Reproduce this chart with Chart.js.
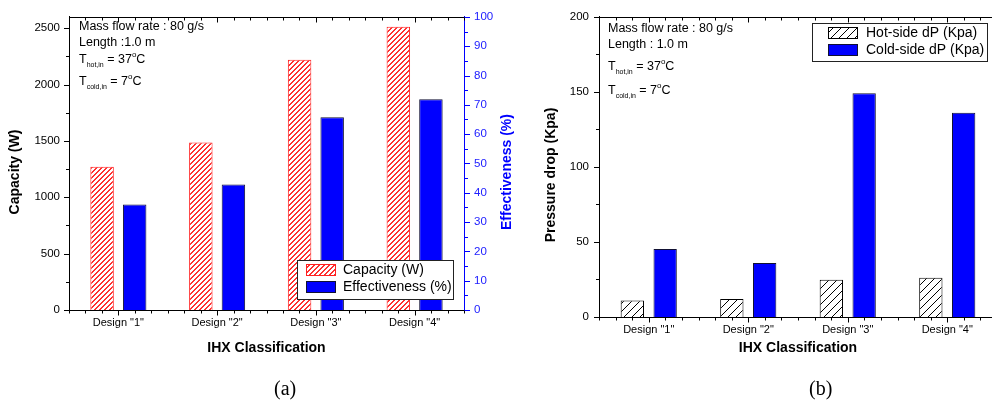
<!DOCTYPE html>
<html><head><meta charset="utf-8">
<script src="https://cdn.jsdelivr.net/npm/chart.js@4.4.1/dist/chart.umd.min.js"></script>
<style>
html,body{margin:0;padding:0;background:#fff;}
body{width:992px;height:401px;overflow:hidden;position:relative;}
#wa{position:absolute;left:0;top:0;width:525px;height:401px;}
#wb{position:absolute;left:525px;top:0;width:485px;height:401px;}
.cap{position:absolute;font-family:"Liberation Serif","Times New Roman",serif;font-size:20px;color:#000;top:376px;line-height:24px;}
</style></head><body>
<div id="wa"><canvas id="ca" width="525" height="401"></canvas></div>
<div id="wb"><canvas id="cb" width="485" height="401"></canvas></div>
<div class="cap" style="left:274px">(a)</div>
<div class="cap" style="left:809px">(b)</div>
<script>
// ---------------- data ----------------
const categories = ['Design "1"', 'Design "2"', 'Design "3"', 'Design "4"'];
const capacityW = [1270, 1485, 2220, 2512];
const effectivenessPct = [36.0, 42.8, 65.8, 71.9];
const hotSideDP = [11.0, 12.0, 24.8, 26.1];
const coldSideDP = [45.3, 36.0, 149.2, 136.2];
const capacityTicks = [0, 500, 1000, 1500, 2000, 2500];
const effectivenessTicks = [0, 10, 20, 30, 40, 50, 60, 70, 80, 90, 100];
const pressureTicks = [0, 50, 100, 150, 200];

// ---------------- helpers ----------------
const F = '"Liberation Sans", Arial, Helvetica, sans-serif';
// pixel-exact diagonal "/" hatch tile: period s, line thickness t (pixels)
function hatch(ctx, color, s, t) {
  const c = document.createElement('canvas');
  c.width = s; c.height = s;
  const g = c.getContext('2d');
  g.fillStyle = '#ffffff'; g.fillRect(0, 0, s, s);
  g.fillStyle = color;
  for (let y = 0; y < s; y++) for (let x = 0; x < s; x++) {
    if ((x + y) % s >= s - t) g.fillRect(x, y, 1, 1);
  }
  return ctx.createPattern(c, 'repeat');
}
function drawRich(ctx, x, y, parts) {
  let cx = x;
  for (const p of parts) {
    ctx.font = (p.bold ? 'bold ' : '') + p.size + 'px ' + F;
    ctx.fillText(p.t, cx, y + (p.dy || 0));
    cx += ctx.measureText(p.t).width;
  }
}
function setTicks(arr) { return s => { s.ticks = arr.map(v => ({value: v})); }; }
const plainLabel = v => String(v);

const decor = {
  id: 'decor',
  afterDraw(chart, args, o) {
    const ctx = chart.ctx, ca = chart.chartArea;
    ctx.save();
    ctx.lineWidth = 1;
    ctx.strokeStyle = '#000';
    ctx.beginPath();
    ctx.moveTo(ca.left, Math.round(ca.top) + 0.5); ctx.lineTo(ca.right, Math.round(ca.top) + 0.5);
    if (o.frameRight) { ctx.moveTo(Math.round(ca.right) + 0.5, ca.top); ctx.lineTo(Math.round(ca.right) + 0.5, ca.bottom); }
    ctx.stroke();
    // x ticks (bottom outward, top inward)
    const xs = chart.scales.x;
    const n = categories.length;
    ctx.beginPath();
    for (let k = 0; k <= n * 6; k++) {
      const px = Math.round(xs.getPixelForValue(-0.5 + k / 6)) + 0.5;
      const len = (k % 6 === 3) ? 5 : 3;
      const yb = Math.round(ca.bottom) + 0.5, yt = Math.round(ca.top) + 0.5;
      ctx.moveTo(px, yb); ctx.lineTo(px, yb + len);
      ctx.moveTo(px, yt); ctx.lineTo(px, yt + len);
    }
    ctx.stroke();
    // y ticks
    for (const ax of o.yAxes) {
      const s = chart.scales[ax.id];
      ctx.strokeStyle = ax.color;
      ctx.beginPath();
      for (let v = s.min; v <= s.max + 1e-9; v += ax.minor) {
        const py = Math.round(s.getPixelForValue(v)) + 0.5;
        const major = Math.abs(v / ax.major - Math.round(v / ax.major)) < 1e-6;
        const len = major ? 5 : 3;
        if (ax.side === 'left') { const x0 = Math.round(ca.left); ctx.moveTo(x0, py); ctx.lineTo(x0 - len, py); }
        if (ax.side === 'right') { const x0 = Math.round(ca.right) + 1; ctx.moveTo(x0, py); ctx.lineTo(x0 + len, py); }
        if (ax.mirror) { const x0 = Math.round(ca.right); ctx.moveTo(x0, py); ctx.lineTo(x0 - len, py); }
      }
      ctx.stroke();
    }
    // titles
    ctx.textBaseline = 'middle';
    ctx.textAlign = 'center';
    for (const t of o.titles) {
      ctx.save();
      ctx.fillStyle = t.color || '#000';
      ctx.font = 'bold 14px ' + F;
      const tx = t.x === 'center' ? (ca.left + ca.right) / 2 : t.x;
      ctx.translate(tx, t.y);
      if (t.rot) ctx.rotate(t.rot);
      ctx.fillText(t.text, 0, 0);
      ctx.restore();
    }
    // annotation
    ctx.textAlign = 'left';
    ctx.fillStyle = '#000';
    for (const ln of o.notes) drawRich(ctx, o.noteX, ln.y, ln.parts);
    // legend
    const L = o.legend;
    ctx.fillStyle = '#fff';
    ctx.fillRect(L.x, L.y, L.w, L.h);
    ctx.strokeStyle = '#222';
    ctx.strokeRect(L.x + 0.5, L.y + 0.5, L.w, L.h);
    chart.data.datasets.forEach((ds, i) => {
      const it = L.items[i];
      ctx.fillStyle = ds.backgroundColor;
      ctx.fillRect(L.sx, it.y, L.sw, L.sh);
      ctx.strokeStyle = ds.borderColor;
      ctx.strokeRect(L.sx + 0.5, it.y + 0.5, L.sw - 1, L.sh - 1);
      ctx.fillStyle = '#000';
      ctx.font = '14px ' + F;
      ctx.textBaseline = 'middle';
      ctx.fillText(ds.label, L.tx, it.y + L.sh / 2);
    });
    ctx.restore();
  }
};

const noteParts = (hotLabel, hotVal) => [
  {t: 'T', size: 12.5}, {t: hotLabel, size: 7, dy: 5}, {t: ' = ' + hotVal, size: 12.5}, {t: 'o', size: 8, dy: -5}, {t: 'C', size: 12.5}
];

// ---------------- chart (a) ----------------
const ctxA = document.getElementById('ca').getContext('2d');
const redHatch = hatch(ctxA, '#ff3030', 5, 2);
new Chart(ctxA, {
  type: 'bar',
  data: {
    labels: categories,
    datasets: [
      {label: 'Capacity (W)', data: capacityW, yAxisID: 'y', backgroundColor: redHatch, borderColor: '#ff2020', borderWidth: 1},
      {label: 'Effectiveness (%)', data: effectivenessPct, yAxisID: 'y1', backgroundColor: '#0000ff', borderColor: '#111133', borderWidth: 1}
    ]
  },
  options: {
    responsive: false, animation: false,
    layout: {padding: {top: 14, left: 0, right: 0, bottom: 0}},
    datasets: {bar: {categoryPercentage: 0.66, barPercentage: 0.72}},
    plugins: {
      legend: {display: false}, tooltip: {enabled: false},
      decor: {
        frameRight: false,
        yAxes: [{id: 'y', major: 500, minor: 250, side: 'left', color: '#000'},
                {id: 'y1', major: 10, minor: 5, side: 'right', color: '#0000ff'}],
        titles: [
          {text: 'Capacity (W)', x: 15, y: 172, rot: -Math.PI / 2},
          {text: 'Effectiveness (%)', x: 507, y: 172, rot: -Math.PI / 2, color: '#0000ff'},
          {text: 'IHX Classification', x: 'center', y: 348}
        ],
        noteX: 79,
        notes: [
          {y: 27, parts: [{t: 'Mass flow rate : 80 g/s', size: 12.5}]},
          {y: 42.5, parts: [{t: 'Length :1.0 m', size: 12.5}]},
          {y: 60, parts: noteParts('hot,in', '37')},
          {y: 82, parts: noteParts('cold,in', '7')}
        ],
        legend: {x: 297, y: 260, w: 156, h: 39, sx: 306, sw: 30, sh: 12, tx: 343, items: [{y: 264}, {y: 281}]}
      }
    },
    scales: {
      x: {
        type: 'category', offset: true,
        grid: {display: false, drawTicks: false, tickLength: 0},
        border: {display: true, color: '#000', width: 1},
        ticks: {font: {family: F, size: 11}, color: '#000', padding: 6, maxRotation: 0, autoSkip: false},
        afterFit: s => { s.height = 91; }
      },
      y: {
        position: 'left', min: 0, max: 2600,
        grid: {display: false, drawTicks: false, tickLength: 0},
        border: {display: true, color: '#000', width: 1},
        ticks: {font: {family: F, size: 11.5}, color: '#000', padding: 9, callback: plainLabel},
        afterBuildTicks: setTicks(capacityTicks),
        afterFit: s => { s.width = 69; }
      },
      y1: {
        position: 'right', min: 0, max: 100,
        grid: {display: false, drawTicks: false, tickLength: 0},
        border: {display: true, color: '#0000ff', width: 1},
        ticks: {font: {family: F, size: 11.5}, color: '#2020ff', padding: 10, callback: plainLabel},
        afterBuildTicks: setTicks(effectivenessTicks),
        afterFit: s => { s.width = 525 - 464; }
      }
    }
  },
  plugins: [decor]
});

// ---------------- chart (b) ----------------
const ctxB = document.getElementById('cb').getContext('2d');
const blackHatch = hatch(ctxB, '#000000', 8, 1);
new Chart(ctxB, {
  type: 'bar',
  data: {
    labels: categories,
    datasets: [
      {label: 'Hot-side dP (Kpa)', data: hotSideDP, backgroundColor: blackHatch, borderColor: '#000', borderWidth: 1},
      {label: 'Cold-side dP (Kpa)', data: coldSideDP, backgroundColor: '#0000ff', borderColor: '#111133', borderWidth: 1}
    ]
  },
  options: {
    responsive: false, animation: false,
    layout: {padding: {top: 15, left: 0, right: 13, bottom: 0}},
    datasets: {bar: {categoryPercentage: 0.66, barPercentage: 0.71}},
    plugins: {
      legend: {display: false}, tooltip: {enabled: false},
      decor: {
        frameRight: true,
        yAxes: [{id: 'y', major: 50, minor: 25, side: 'left', mirror: true, color: '#000'}],
        titles: [
          {text: 'Pressure drop (Kpa)', x: 26, y: 175, rot: -Math.PI / 2},
          {text: 'IHX Classification', x: 'center', y: 348}
        ],
        noteX: 608 - 525,
        notes: [
          {y: 28.5, parts: [{t: 'Mass flow rate : 80 g/s', size: 12.5}]},
          {y: 45, parts: [{t: 'Length : 1.0 m', size: 12.5}]},
          {y: 67, parts: noteParts('hot,in', '37')},
          {y: 91, parts: noteParts('cold,in', '7')}
        ],
        legend: {x: 812 - 525, y: 23, w: 175, h: 38, sx: 828 - 525, sw: 30, sh: 12, tx: 866 - 525, items: [{y: 27}, {y: 44}]}
      }
    },
    scales: {
      x: {
        type: 'category', offset: true,
        grid: {display: false, drawTicks: false, tickLength: 0},
        border: {display: true, color: '#000', width: 1},
        ticks: {font: {family: F, size: 11}, color: '#000', padding: 6, maxRotation: 0, autoSkip: false},
        afterFit: s => { s.height = 401 - 317; }
      },
      y: {
        position: 'left', min: 0, max: 200,
        grid: {display: false, drawTicks: false, tickLength: 0},
        border: {display: true, color: '#000', width: 1},
        ticks: {font: {family: F, size: 11.5}, color: '#000', padding: 10, callback: plainLabel},
        afterBuildTicks: setTicks(pressureTicks),
        afterFit: s => { s.width = 599 - 525; }
      }
    }
  },
  plugins: [decor]
});
</script>
</body></html>
